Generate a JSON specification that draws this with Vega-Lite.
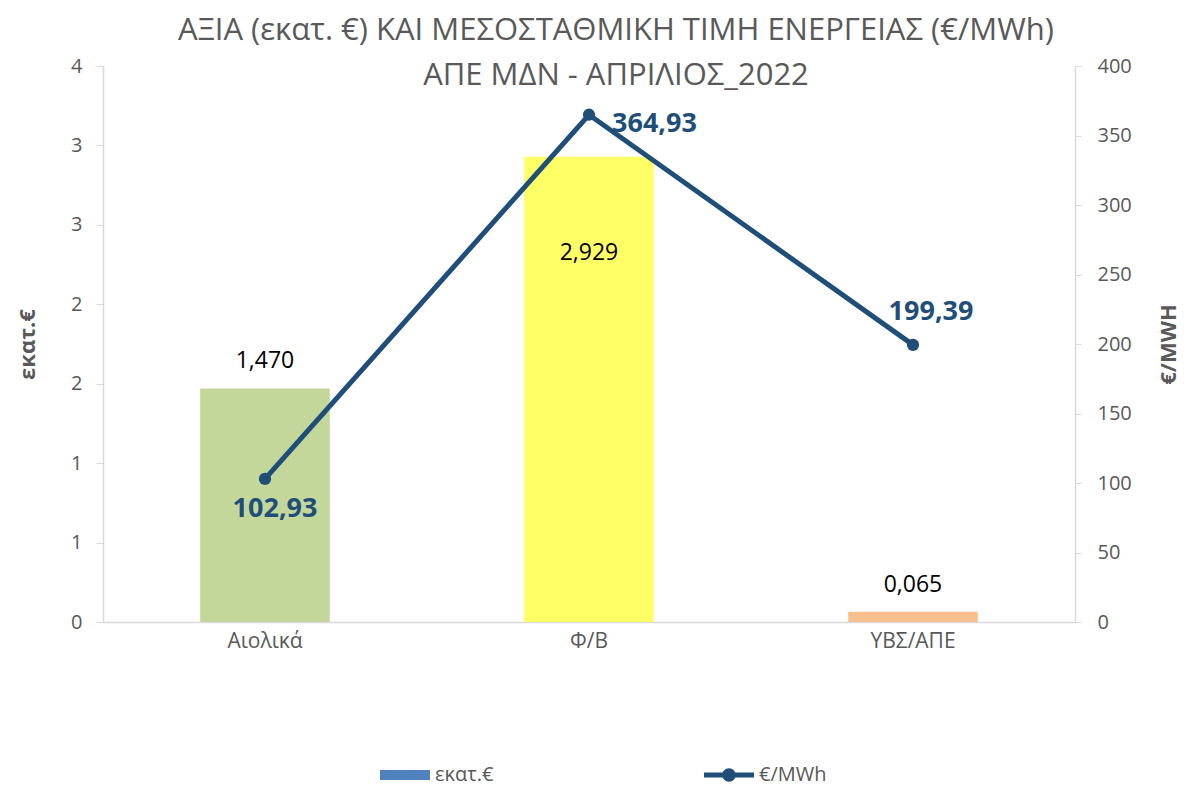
{
  "$schema": "https://vega.github.io/schema/vega-lite/v6.json",
  "width": 972,
  "height": 556,
  "autosize": "none",
  "padding": {"left": 103, "top": 66, "right": 110, "bottom": 167},
  "background": "white",
  "title": {
    "text": ["ΑΞΙΑ (εκατ. €) ΚΑΙ ΜΕΣΟΣΤΑΘΜΙΚΗ ΤΙΜΗ ΕΝΕΡΓΕΙΑΣ (€/MWh)", "ΑΠΕ ΜΔΝ - ΑΠΡΙΛΙΟΣ_2022"],
    "font": "Open Sans",
    "fontSize": 31,
    "fontWeight": "normal",
    "color": "#595959",
    "lineHeight": 45,
    "anchor": "middle",
    "frame": "group",
    "offset": -36,
    "dx": 27
  },
  "data": {
    "values": [
      {"cat": "Αιολικά", "value": 1.470, "price": 102.93},
      {"cat": "Φ/Β", "value": 2.929, "price": 364.93},
      {"cat": "ΥΒΣ/ΑΠΕ", "value": 0.065, "price": 199.39}
    ]
  },
  "encoding": {
    "x": {
      "field": "cat",
      "type": "nominal",
      "sort": null,
      "scale": {"paddingInner": 0.6, "paddingOuter": 0.3},
      "axis": {
        "title": null,
        "labelAngle": 0,
        "ticks": false,
        "labelPadding": 8,
        "domainColor": "#D9D9D9",
        "domainWidth": 1.5,
        "labelFontSize": 21,
        "labelColor": "#595959"
      }
    }
  },
  "layer": [
    {
      "layer": [
        {
          "mark": {"type": "bar"},
          "encoding": {
            "y": {
              "field": "value",
              "type": "quantitative",
              "scale": {"domain": [0, 3.5], "nice": false},
              "axis": {
                "orient": "left",
                "values": [0, 0.5, 1, 1.5, 2, 2.5, 3, 3.5],
                "labelExpr": "'' + round(datum.value)",
                "labelOverlap": false,
                "title": "εκατ.€",
                "titleFontSize": 22,
                "titleFontWeight": "bold",
                "titleColor": "#595959",
                "titlePadding": 31,
                "labelFontSize": 20,
                "labelColor": "#595959",
                "labelPadding": 14,
                "tickSize": 7,
                "tickColor": "#D9D9D9",
                "domainColor": "#D9D9D9",
                "domainWidth": 1.5
              }
            },
            "fill": {
              "field": "cat",
              "type": "nominal",
              "scale": {"domain": ["Αιολικά", "Φ/Β", "ΥΒΣ/ΑΠΕ"], "range": ["#C4D79B", "#FFFF66", "#FABF8F"]},
              "legend": null
            }
          }
        },
        {
          "transform": [{"filter": "datum.cat !== 'Φ/Β'"}],
          "mark": {"type": "text", "dy": -27, "fontSize": 23, "color": "#000000", "baseline": "middle"},
          "encoding": {
            "y": {"field": "value", "type": "quantitative"},
            "text": {"field": "value", "type": "quantitative", "format": ".3f"}
          }
        },
        {
          "transform": [{"filter": "datum.cat === 'Φ/Β'"}],
          "mark": {"type": "text", "dy": 96, "fontSize": 23, "color": "#000000", "baseline": "middle"},
          "encoding": {
            "y": {"field": "value", "type": "quantitative"},
            "text": {"field": "value", "type": "quantitative", "format": ".3f"}
          }
        }
      ]
    },
    {
      "layer": [
        {
          "mark": {"type": "line", "strokeWidth": 5, "strokeCap": "round"},
          "encoding": {
            "y": {
              "field": "price",
              "type": "quantitative",
              "scale": {"domain": [0, 400], "nice": false},
              "axis": {
                "orient": "right",
                "values": [0, 50, 100, 150, 200, 250, 300, 350, 400],
                "title": "€/MWH",
                "titleAngle": 270,
                "titleBaseline": "top",
                "titleFontSize": 22,
                "titleFontWeight": "bold",
                "titleColor": "#595959",
                "titlePadding": 27,
                "labelFontSize": 20,
                "labelColor": "#595959",
                "labelPadding": 16,
                "tickSize": 6,
                "tickColor": "#D9D9D9",
                "domainColor": "#D9D9D9",
                "domainWidth": 1.5
              }
            },
            "color": {
              "datum": "€/MWh",
              "type": "nominal",
              "scale": {"domain": ["εκατ.€", "€/MWh"], "range": ["#4F81BD", "#1F4E79"]},
              "legend": {
                "title": null,
                "orient": "none",
                "legendX": 277,
                "legendY": 684,
                "direction": "horizontal",
                "labelFontSize": 20,
                "labelColor": "#595959",
                "labelOffset": 5,
                "columnPadding": 210,
                "symbolSize": 2500,
                "encode": {
                  "symbols": {
                    "update": {
                      "shape": {"signal": "datum.value === 'εκατ.€' ? 'M-1,-0.2L1,-0.2L1,0.2L-1,0.2Z' : 'M-1,-0.1L1,-0.1L1,0.1L-1,0.1Z M0.27,0A0.27,0.27,0,1,1,-0.27,0A0.27,0.27,0,1,1,0.27,0Z'"},
                      "fill": {"signal": "datum.value === 'εκατ.€' ? '#4F81BD' : '#1F4E79'"},
                      "stroke": {"value": "transparent"},
                      "strokeWidth": {"value": 0},
                      "size": {"value": 2500},
                      "opacity": {"value": 1}
                    }
                  }
                }
              }
            }
          }
        },
        {
          "mark": {"type": "point", "filled": true, "size": 150, "opacity": 1, "color": "#1F4E79"},
          "encoding": {"y": {"field": "price", "type": "quantitative"}}
        },
        {
          "transform": [{"filter": "datum.cat === 'Αιολικά'"}],
          "mark": {"type": "text", "dx": 10, "dy": 30, "fontSize": 27, "fontWeight": "bold", "color": "#1F4E79", "baseline": "middle", "align": "center"},
          "encoding": {
            "y": {"field": "price", "type": "quantitative"},
            "text": {"field": "price", "type": "quantitative", "format": ".2f"}
          }
        },
        {
          "transform": [{"filter": "datum.cat === 'Φ/Β'"}],
          "mark": {"type": "text", "dx": 23, "dy": 9, "fontSize": 27, "fontWeight": "bold", "color": "#1F4E79", "baseline": "middle", "align": "left"},
          "encoding": {
            "y": {"field": "price", "type": "quantitative"},
            "text": {"field": "price", "type": "quantitative", "format": ".2f"}
          }
        },
        {
          "transform": [{"filter": "datum.cat === 'ΥΒΣ/ΑΠΕ'"}],
          "mark": {"type": "text", "dx": 18, "dy": -33, "fontSize": 27, "fontWeight": "bold", "color": "#1F4E79", "baseline": "middle", "align": "center"},
          "encoding": {
            "y": {"field": "price", "type": "quantitative"},
            "text": {"field": "price", "type": "quantitative", "format": ".2f"}
          }
        }
      ]
    }
  ],
  "resolve": {"scale": {"y": "independent"}},
  "config": {
    "locale": {"number": {"decimal": ",", "thousands": ".", "grouping": [3], "currency": ["", " €"]}},
    "font": "Open Sans",
    "view": {"stroke": null},
    "axis": {"grid": false}
  }
}
